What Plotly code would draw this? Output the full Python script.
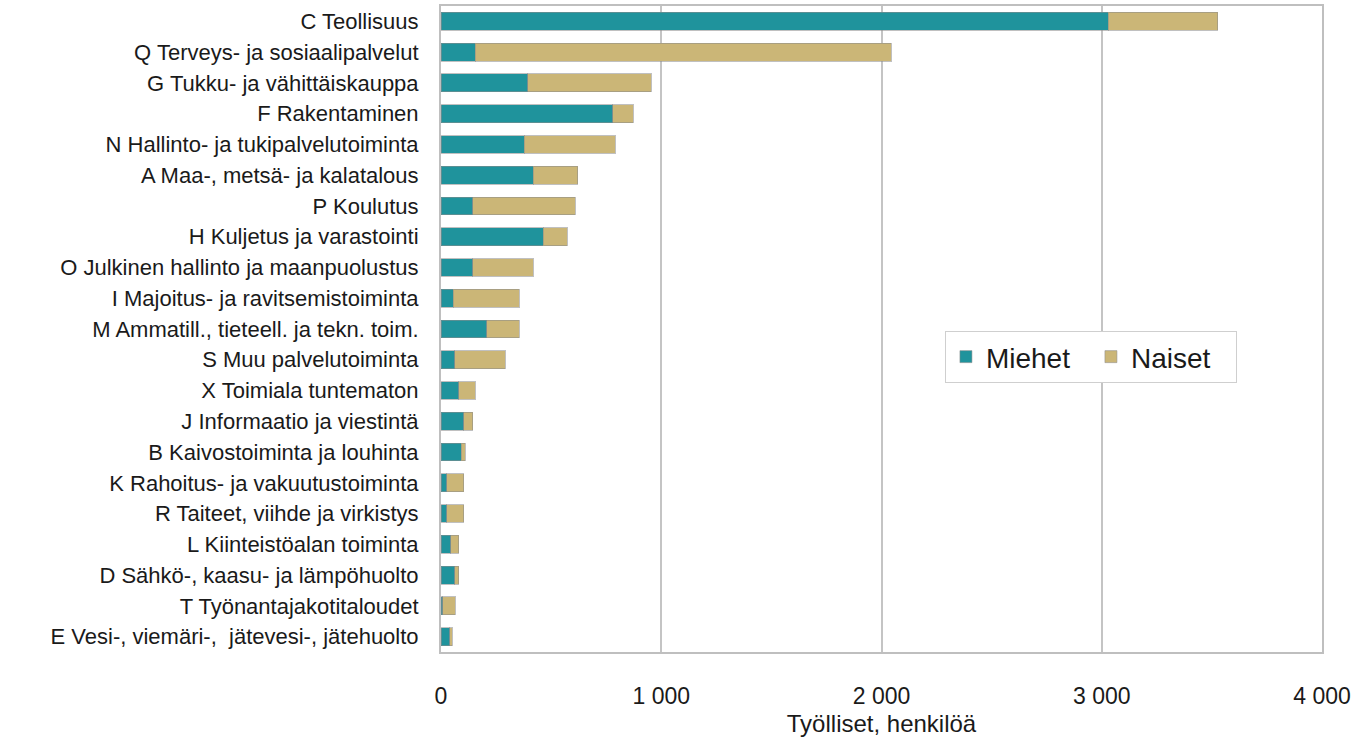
import plotly.graph_objects as go

categories = [
    "C Teollisuus",
    "Q Terveys- ja sosiaalipalvelut",
    "G Tukku- ja vähittäiskauppa",
    "F Rakentaminen",
    "N Hallinto- ja tukipalvelutoiminta",
    "A Maa-, metsä- ja kalatalous",
    "P Koulutus",
    "H Kuljetus ja varastointi",
    "O Julkinen hallinto ja maanpuolustus",
    "I Majoitus- ja ravitsemistoiminta",
    "M Ammatill., tieteell. ja tekn. toim.",
    "S Muu palvelutoiminta",
    "X Toimiala tuntematon",
    "J Informaatio ja viestintä",
    "B Kaivostoiminta ja louhinta",
    "K Rahoitus- ja vakuutustoiminta",
    "R Taiteet, viihde ja virkistys",
    "L Kiinteistöalan toiminta",
    "D Sähkö-, kaasu- ja lämpöhuolto",
    "T Työnantajakotitaloudet",
    "E Vesi-, viemäri-,  jätevesi-, jätehuolto",
]
miehet = [3030, 155, 394, 779, 377, 418, 144, 464, 144, 56, 207, 62, 80, 103, 91, 26, 26, 45, 62, 9, 39]
naiset = [497, 1890, 561, 94, 414, 203, 465, 110, 274, 299, 148, 229, 75, 42, 18, 78, 78, 35, 18, 55, 11]

tick_vals = [0, 1000, 2000, 3000, 4000]
tick_text = ["0", "1 000", "2 000", "3 000", "4 000"]
x_title = "Työlliset, henkilöä"

FONT = "Liberation Sans, Arial, sans-serif"
line_style = dict(color="rgba(140,140,140,0.55)", width=1)

fig = go.Figure()
fig.add_trace(go.Bar(y=categories, x=miehet, name="Miehet", orientation="h",
                     marker=dict(color="#1f939c", line=line_style)))
fig.add_trace(go.Bar(y=categories, x=naiset, name="Naiset", orientation="h",
                     marker=dict(color="#cbb677", line=line_style)))

fig.update_layout(
    barmode="stack",
    bargap=0.42,
    width=1363, height=740,
    margin=dict(l=441, r=41, t=4, b=88),
    paper_bgcolor="white", plot_bgcolor="white",
    font=dict(family=FONT, color="#1a1a1a"),
    showlegend=True,
    legend=dict(
        orientation="h",
        traceorder="normal",
        x=0.572, y=0.497, xanchor="left", yanchor="top",
        bordercolor="#cfcfcf", borderwidth=1,
        bgcolor="white",
        font=dict(size=28, family=FONT, color="#1a1a1a"),
        entrywidth=100, entrywidthmode="pixels",
        itemwidth=30,
    ),
)
fig.update_xaxes(
    range=[0, 4000],
    tickvals=tick_vals, ticktext=tick_text,
    tickfont=dict(size=23, family=FONT, color="#1a1a1a"),
    showgrid=True, gridcolor="#c4c4c4", gridwidth=2,
    showline=True, linecolor="#bfbfbf", linewidth=2, mirror=True,
    zeroline=False,
    ticks="", ticklabelstandoff=22,
    title=dict(text=x_title, font=dict(size=24, family=FONT, color="#1a1a1a"), standoff=8),
)
fig.update_yaxes(
    autorange="reversed",
    tickfont=dict(size=22, family=FONT, color="#1a1a1a"),
    showgrid=False,
    showline=True, linecolor="#bfbfbf", linewidth=2, mirror=True,
    ticks="", ticklabelstandoff=16,
)

fig.write_html("out.html", config={"displayModeBar": False},
               post_script="document.body.style.margin='0';document.body.style.padding='0';")
